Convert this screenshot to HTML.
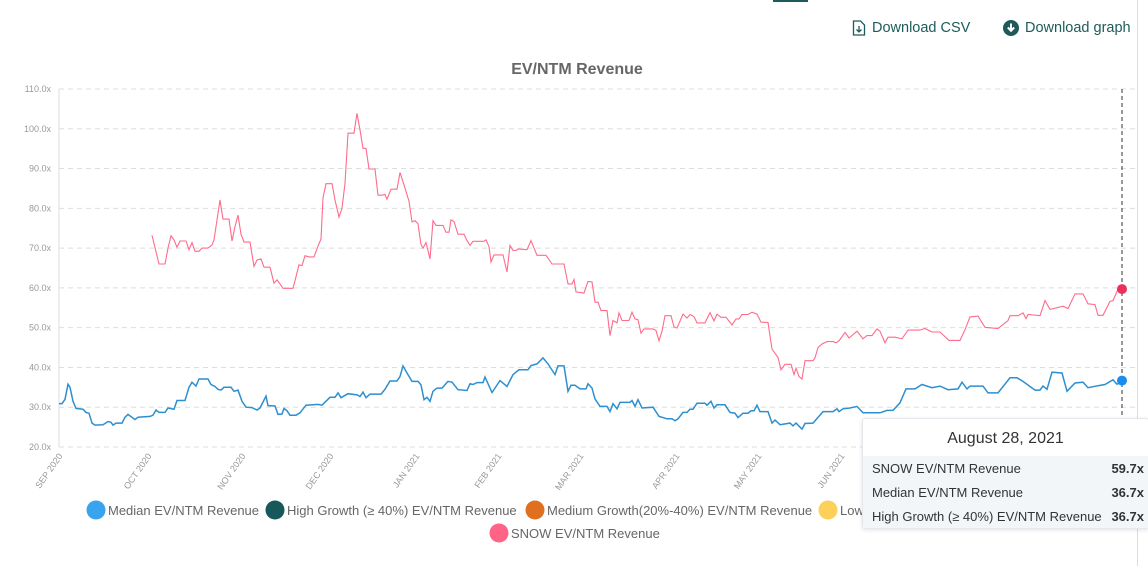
<!DOCTYPE html>
<html><head><meta charset="utf-8">
<style>
body{margin:0;width:1148px;height:566px;background:#fff;overflow:hidden;font-family:"Liberation Sans",sans-serif;position:relative}
.dl{position:absolute;top:20px;font-size:14.5px;color:#1d5b5b;display:flex;align-items:center;gap:6px;cursor:pointer}
.tab{position:absolute;left:773px;top:0;width:35px;height:2px;background:#1d5b5b}
.vline{position:absolute;left:1137px;top:0;width:1px;height:566px;background:#ddd}
.tip{position:absolute;left:862px;top:418px;width:285px;height:109px;background:#fff;border:1px solid #e4e8ec;border-radius:3px;box-shadow:0 1px 4px rgba(0,0,0,.12);font-size:13px;color:#333}
.tip .hd{height:37px;text-align:center;font-size:16px;line-height:40px;color:#333}
.tip .rows{background:#f3f6f9;padding-top:1px;height:71px}
.tip .r{display:flex;justify-content:space-between;height:24px;line-height:24px;padding:0 4px 0 9px}
.tip b{font-weight:bold}
</style></head><body>
<div class="tab"></div>
<div class="vline"></div>
<div class="dl" style="left:852px">
<svg width="14" height="16" viewBox="0 0 14 16"><path d="M1.5 1h7l4 4v10h-11z" fill="none" stroke="#1d5b5b" stroke-width="1.3"/><path d="M7 6v6M4.5 9.5L7 12l2.5-2.5" fill="none" stroke="#1d5b5b" stroke-width="1.3"/></svg>
<span>Download CSV</span></div>
<div class="dl" style="left:1003px">
<svg width="16" height="16" viewBox="0 0 16 16"><circle cx="8" cy="8" r="8" fill="#1d5b5b"/><path d="M8 3.5v7M4.8 7.5L8 10.8l3.2-3.3" fill="none" stroke="#fff" stroke-width="2"/></svg>
<span>Download graph</span></div>
<svg id="chart" width="1148" height="566" style="position:absolute;left:0;top:0">
<text x="577" y="74" text-anchor="middle" font-size="16" font-weight="bold" fill="#666">EV/NTM Revenue</text>
<g id="grid"></g><g id="xt"></g><g id="lines"></g><g id="legend"></g>
</svg>
<div class="tip">
<div class="hd">August 28, 2021</div>
<div class="rows">
<div class="r"><span>SNOW EV/NTM Revenue</span><b>59.7x</b></div>
<div class="r"><span>Median EV/NTM Revenue</span><b>36.7x</b></div>
<div class="r"><span>High Growth (≥ 40%) EV/NTM Revenue</span><b>36.7x</b></div>
</div></div>
<script>
const yTicks=[20,30,40,50,60,70,80,90,100,110];
const xTickLabels=["SEP 2020","OCT 2020","NOV 2020","DEC 2020","JAN 2021","FEB 2021","MAR 2021","APR 2021","MAY 2021","JUN 2021"];
const xTickT=[63,152,246,334,420,502,584,680,762,845];
const medT=[59,62,65,68,70,73,76,83,86,89,92,95,103,108,111,113,116,122,125,128,135,138,150,153,156,159,165,168,174,177,185,189,192,196,199,208,211,215,218,221,224,231,234,238,242,246,252,257,260,266,268,275,278,282,284,287,290,296,300,306,318,322,330,335,338,341,348,357,360,363,366,370,381,385,390,397,400,403,407,412,418,421,424,427,430,433,437,442,448,452,458,467,470,473,477,483,485,492,500,507,513,519,528,531,537,543,548,555,558,564,568,571,575,580,586,588,592,595,600,607,610,613,617,620,630,632,635,638,642,653,659,667,672,675,678,683,687,690,693,697,705,707,711,714,717,725,730,735,738,743,748,751,754,757,760,768,772,775,780,790,793,796,802,805,813,823,833,837,839,843,850,857,863,880,887,893,900,906,915,922,932,940,948,958,962,967,970,983,988,998,1010,1017,1023,1035,1040,1043,1047,1052,1062,1067,1075,1083,1088,1098,1105,1113,1117,1122];
const medV=[30.9,30.9,32,35.8,35,31.5,29.7,29.5,28.7,28.5,26,25.5,25.6,26.4,26.2,25.5,26,26,27.5,28.2,26.9,27.5,27.7,28,29.3,28.7,28.7,29.8,29.5,31.7,31.7,35,36.3,35.3,37.1,37.1,35.7,35.2,34.5,34.3,35,35,34,34.3,31.5,30,29.9,29.3,29.8,32.8,30.4,30.3,28.2,28.3,29.7,29.1,28,28,28.6,30.5,30.7,30.5,32.5,32.5,33.6,32.4,33.4,33.1,32.7,33.8,32.4,33.3,33.3,34.5,36.6,36.6,37.7,40.4,38.6,36.5,36.5,35.6,31.9,32.5,31.5,34,34.8,34.8,36.5,36.3,34.4,34.2,35.9,35.7,36.2,36.2,37.6,33.7,36.7,35.2,38.2,39.4,39.4,40.5,40.9,42.4,40.9,38.2,40.4,40.4,34,35.5,35.5,34.6,34.6,35.9,34.8,32.1,30.2,30.2,28.9,30.9,29.6,31.2,31.2,31.7,30.2,31.9,29.8,30,27.7,27.1,27.1,26.6,27.1,28.7,28.7,29.5,29.5,31,31,30.5,31.5,29.8,30.6,30.6,28.7,28.5,27.4,28.5,28.5,29.1,29.1,30.5,28.9,28.9,26,26.8,25.6,26,25.3,26,24.5,25.9,26,28.9,28.9,29.6,28.9,29.6,29.8,30.2,28.6,28.6,29.2,29.2,31.1,34.6,34.6,35.7,34.9,35.3,34.4,34.6,36.3,34.6,35.3,35.3,33.6,33.6,37.4,37.4,36.5,34.3,34.3,35.3,34.5,38.8,38.6,34,36.1,36.3,34.9,35.4,35.7,36.9,35.8,36.7];
const snowT=[152,159,165,168,171,174,177,180,186,189,192,195,199,202,208,212,214,217,220,223,229,232,235,238,241,244,250,254,257,261,264,270,274,277,280,283,293,296,299,302,305,309,314,318,321,323,326,332,335,339,342,345,348,354,357,360,363,366,369,375,378,382,385,387,391,397,400,404,409,412,415,418,421,423,426,430,433,436,443,446,449,451,454,458,464,467,470,473,484,486,489,491,494,503,507,510,513,516,518,527,531,534,537,546,549,552,564,568,572,574,576,584,588,592,595,598,601,607,610,613,617,619,622,629,632,635,638,641,644,653,656,659,662,665,671,674,677,683,687,690,694,697,705,710,714,717,721,726,732,736,739,742,748,752,757,761,768,772,778,781,785,791,794,796,799,802,805,813,815,818,822,827,833,836,839,845,849,857,863,867,872,877,880,885,888,895,902,908,920,925,932,940,949,960,965,970,978,985,998,1008,1010,1018,1023,1026,1028,1040,1045,1050,1063,1068,1075,1083,1088,1095,1098,1103,1110,1113,1118,1122];
const snowV=[73.2,66,66,70,73.1,72.1,70.2,71.8,71.8,69.6,71.4,69.2,69.2,70,70,70.8,72.1,77.1,82.1,77.3,77.3,71.8,75.4,78.3,73.5,71.5,71.5,65.4,67,67.3,65.2,65.2,61.2,62,61,59.9,59.9,62.8,65.8,65.6,68.1,67.8,67.8,70.5,72.3,82.6,86.2,86.2,82.1,77.8,80,86.3,98.9,98.9,103.9,99.7,95.1,95.1,89.9,89.9,83.3,83.3,83.5,82.3,84.8,84.8,89,85.9,81.8,76.6,76.9,76.1,70.9,70,71.4,67.3,76.9,75.7,75.7,74,74,77.1,76.7,73.5,73.5,71.9,70.7,71.7,71.7,72.1,70.4,66.5,68.3,68.3,64,70.7,69.4,69.4,69.8,69.6,71.9,70,68.2,68.2,67.1,66,66,61,61,62.1,59,58.7,61.6,61.5,56.4,56.4,54.3,54.3,48,51.8,51.2,53.7,51.8,51.8,53.9,52.2,52,48.6,49.7,49.7,49.3,46.7,49.1,53,53,50.2,49.9,53.4,52.4,53.3,52.8,51.2,51.2,53.8,51.7,53.4,52.6,52.6,50.7,52.2,52.2,53.3,53.3,53.9,53.4,51.4,51.3,44.6,42.5,39.4,40.8,40.8,38.2,39.8,37.7,37.1,41.7,41.7,42.4,45,45.9,46.5,46.5,46.2,46.7,48.8,47.4,49.1,47.2,48,48,49.7,49.1,46.2,47.6,47.6,47.2,49.4,49.4,49.8,48.9,48.9,46.8,46.8,49.5,52.7,52.9,50.1,49.8,51.8,53,53,53.7,52.3,53.3,53,56.8,54.6,55.4,54.8,58.5,58.5,56,55.8,53.1,53.1,56.6,56.8,59.7,59.7];
const legendNames=["Median EV/NTM Revenue","High Growth (≥ 40%) EV/NTM Revenue","Medium Growth(20%-40%) EV/NTM Revenue","Low Growth (< 20%) EV/NTM Revenue","SNOW EV/NTM Revenue"];
const legendColors=["#3aa3ee","#17595a","#e07020","#fdd05a","#ff6385"];

const NS="http://www.w3.org/2000/svg";
const X0=59,X1=1122,Y0=447,Y1=89,TMIN=59,TMAX=1122,VMIN=20,VMAX=110;
const x=t=>X0+(t-TMIN)/(TMAX-TMIN)*(X1-X0);
const y=v=>Y0-(v-VMIN)/(VMAX-VMIN)*(Y0-Y1);
function mk(tag,attrs,parent){const e=document.createElementNS(NS,tag);for(const k in attrs)e.setAttribute(k,attrs[k]);parent.appendChild(e);return e;}
const grid=document.getElementById('grid');
yTicks.forEach(v=>{
  const l=mk('line',{x1:X0,x2:1138,y1:y(v),y2:y(v),stroke:'#dedede','stroke-dasharray':'5,4'},grid);
  
  
  const t=mk('text',{x:51,y:y(v)+3,'text-anchor':'end','font-size':'9',fill:'#999'},grid);
  t.textContent=v.toFixed(1)+'x';
  
  
});
const ax=mk('line',{x1:X0,x2:X0,y1:Y1,y2:Y0,stroke:'#ddd'},grid);


const xt=document.getElementById('xt');
xTickLabels.forEach((s,i)=>{
  const px=x(xTickT[i]);
  const t=mk('text',{x:px,y:456,'text-anchor':'end','font-size':'9',fill:'#999',transform:`rotate(-55 ${px} 456)`},xt);
  t.textContent=s;
  
  
});
const lines=document.getElementById('lines');
function path(T,V,color,name,w){
  const d=T.map((t,i)=>(i?'L':'M')+x(t).toFixed(1)+','+y(V[i]).toFixed(1)).join('');
  const p=mk('path',{d:d,fill:'none',stroke:color,'stroke-width':w},lines);
  
  
}
path(snowT,snowV,'#ff6b8b','snow-line',1.1);
path(medT,medV,'#2d8fcf','median-line',1.5);
const cl=mk('line',{x1:x(TMAX),x2:x(TMAX),y1:Y1,y2:418,stroke:'#333','stroke-dasharray':'4,3'},lines);


const d1=mk('circle',{cx:x(snowT[snowT.length-1]),cy:y(snowV[snowV.length-1]),r:5,fill:'#ee2f5a'},lines);


const d2=mk('circle',{cx:x(medT[medT.length-1]),cy:y(medV[medV.length-1]),r:5,fill:'#1a8eef'},lines);


const leg=document.getElementById('legend');
const legPos=[[96,510],[275,510],[535,510],[828,510],[499,533]];
legendNames.forEach((n,i)=>{
  const g=mk('g',{style:'cursor:pointer'},leg);
  
  
  mk('circle',{cx:legPos[i][0],cy:legPos[i][1],r:9.5,fill:legendColors[i]},g);
  const t=mk('text',{x:legPos[i][0]+12,y:legPos[i][1]+5,'font-size':'13',fill:'#666'},g);
  t.textContent=n;
});
</script>
</body></html>
